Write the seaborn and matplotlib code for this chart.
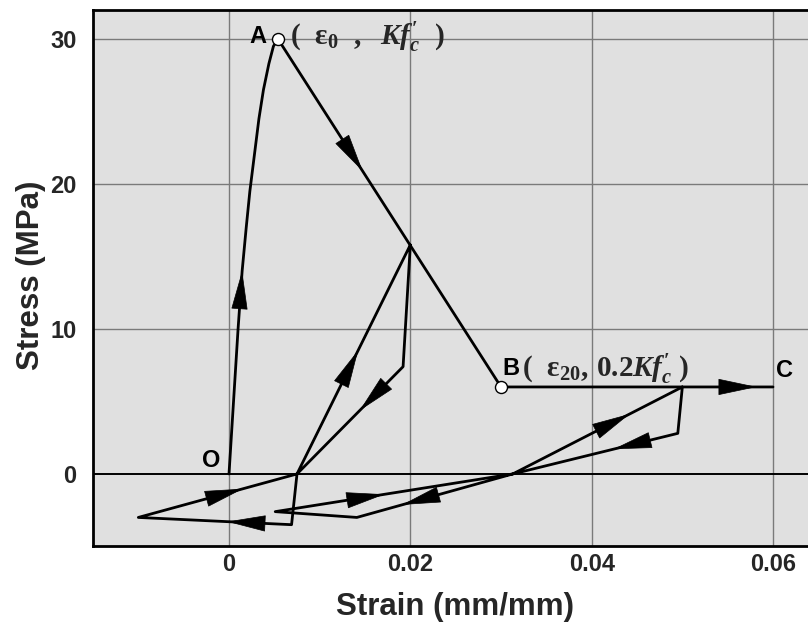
import matplotlib
matplotlib.use("Agg")
import matplotlib.pyplot as plt
import seaborn as sns
import pandas as pd

# Ascending branch O -> A (strain, stress in MPa)
asc_strain = [0.0, 0.0005, 0.0010, 0.00145, 0.0019, 0.0023, 0.0028, 0.0033, 0.0038, 0.0044, 0.0049, 0.0054]
asc_stress = [0.0, 5.0, 10.0, 14.0, 17.0, 19.5, 22.0, 24.5, 26.5, 28.3, 29.5, 30.0]

# Softening line A -> B and residual plateau B -> C
soft_strain = [0.0054, 0.030, 0.060]
soft_stress = [30.0, 6.0, 6.0]

# First unloading / reloading cycle
loop1_strain = [0.0200, 0.0192, 0.0075, 0.0069, -0.0100, 0.0075, 0.0200]
loop1_stress = [15.8, 7.4, 0.0, -3.5, -3.0, 0.0, 15.8]

# Second unloading / reloading cycle
loop2_strain = [0.0500, 0.0495, 0.0313, 0.0141, 0.0051, 0.0313, 0.0500]
loop2_stress = [6.0, 2.8, 0.0, -3.0, -2.6, 0.0, 6.0]

# Key points
pt_O = (0.0, 0.0)
pt_A = (0.0054, 30.0)
pt_B = (0.030, 6.0)
pt_C = (0.060, 6.0)

x_ticks = [0, 0.02, 0.04, 0.06]
x_tick_labels = ["0", "0.02", "0.04", "0.06"]
y_ticks = [0, 10, 20, 30]

paths = {
    "asc": (asc_strain, asc_stress),
    "soft": (soft_strain, soft_stress),
    "loop1": (loop1_strain, loop1_stress),
    "loop2": (loop2_strain, loop2_stress),
}

# Direction arrows: (path, segment index, fraction of the segment where the tip sits)
arrows = [
    ("asc", 2, 1.0),
    ("soft", 0, 0.38),
    ("soft", 1, 0.94),
    ("loop1", 1, 0.41),
    ("loop1", 3, 0.42),
    ("loop1", 4, 0.66),
    ("loop1", 5, 0.54),
    ("loop2", 1, 0.39),
    ("loop2", 2, 0.71),
    ("loop2", 4, 0.46),
    ("loop2", 5, 0.69),
]

sns.set_theme(style="white")
plt.rcParams["font.family"] = ["Liberation Sans", "DejaVu Sans"]
plt.rcParams["mathtext.fontset"] = "custom"
plt.rcParams["mathtext.rm"] = "Liberation Serif:bold"
plt.rcParams["mathtext.it"] = "Liberation Serif:italic:bold"
plt.rcParams["mathtext.bf"] = "Liberation Serif:bold"

fig = plt.figure(figsize=(8.08, 6.28), dpi=100)
ax = fig.add_axes([93 / 808, 82 / 628, 715 / 808, 536 / 628])
ax.set_facecolor("#e0e0e0")

ax.set_xlim(-0.0150, 0.06386)
ax.set_ylim(-4.97, 32.0)

for gx in x_ticks:
    ax.axvline(gx, color="#7a7a7a", lw=1.0, zorder=1)
for gy in y_ticks[1:]:
    ax.axhline(gy, color="#7a7a7a", lw=1.0, zorder=1)
ax.axhline(0, color="black", lw=1.4, zorder=1)

for name, (xs, ys) in paths.items():
    df = pd.DataFrame({"strain": xs, "stress": ys})
    sns.lineplot(data=df, x="strain", y="stress", sort=False, estimator=None,
                 color="black", lw=2.0, ax=ax, zorder=3)

for name, seg, frac in arrows:
    xs, ys = paths[name]
    x0, y0, x1, y1 = xs[seg], ys[seg], xs[seg + 1], ys[seg + 1]
    tip = (x0 + frac * (x1 - x0), y0 + frac * (y1 - y0))
    ax.annotate("", xy=tip, xytext=(x0, y0), xycoords="data",
                arrowprops=dict(arrowstyle="-|>,head_length=2.6,head_width=0.55",
                                mutation_scale=10, color="black", lw=0.5,
                                shrinkA=0, shrinkB=0),
                zorder=4)

# Open markers at A and B
ax.scatter([pt_A[0], pt_B[0]], [pt_A[1], pt_B[1]], s=75, facecolor="white",
           edgecolor="black", linewidth=1.0, zorder=5)

lab = dict(fontsize=17, fontweight="bold", color="black")
ax.annotate("A", xy=pt_A, xytext=(-8, 2), textcoords="offset points",
            ha="right", va="center", **lab)
ax.annotate(r"$(\ \ \mathrm{ε}_0\ \ ,\ \ Kf^{\prime}_{c}\ \ )$", xy=pt_A, xytext=(9, 1),
            textcoords="offset points", ha="left", va="center", fontsize=21)
ax.annotate("B", xy=pt_B, xytext=(1, 13), textcoords="offset points",
            ha="left", va="center", **lab)
ax.annotate(r"$(\ \ \mathrm{ε}_{20},\,0.2Kf^{\prime}_{c}\ )$", xy=pt_B, xytext=(15, 13),
            textcoords="offset points", ha="left", va="center", fontsize=21)
ax.annotate("C", xy=pt_C, xytext=(2, 12), textcoords="offset points",
            ha="left", va="center", **lab)
ax.annotate("O", xy=pt_O, xytext=(-6, 10), textcoords="offset points",
            ha="right", va="center", **lab)

ax.set_xticks(x_ticks)
ax.set_xticklabels(x_tick_labels)
ax.set_yticks(y_ticks)
ax.tick_params(axis="both", length=0, labelsize=17)
ax.tick_params(axis="x", pad=5)
ax.tick_params(axis="y", pad=12)
for t in ax.get_xticklabels() + ax.get_yticklabels():
    t.set_fontweight("bold")

ax.set_xlabel("Strain (mm/mm)", fontsize=22.5, fontweight="bold")
ax.xaxis.set_label_coords(0.506, -0.085)
ax.set_ylabel("")
fig.text(31 / 808, 1 - 275 / 628, "Stress (MPa)", rotation=90, fontsize=22.5,
         fontweight="bold", ha="center", va="center")

for side in ["top", "bottom", "left"]:
    ax.spines[side].set_visible(True)
    ax.spines[side].set_color("black")
    ax.spines[side].set_linewidth(2.0)
ax.spines["right"].set_visible(False)

fig.savefig("out.png", dpi=100)
